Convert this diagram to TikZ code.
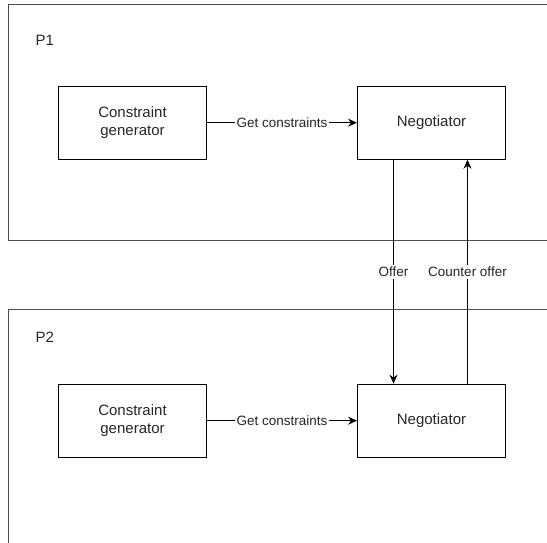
\documentclass[tikz,border=0pt]{standalone}
\usepackage{fontspec}
\setmainfont{Liberation Sans}
\usetikzlibrary{arrows.meta}

\begin{document}
\begin{tikzpicture}[x=1pt, y=-1pt,
        box/.style={draw=black, line width=1pt, minimum width=148pt, minimum height=73pt,
            align=center, inner sep=0pt, text=black!85, font=\fontsize{15}{18}\selectfont},
        frame/.style={draw=black!70, line width=1.3pt},
        plbl/.style={anchor=west, inner sep=0pt, text=black!85, font=\fontsize{15}{18}\selectfont},
        lbl/.style={fill=white, inner sep=2pt, text=black!85, font=\fontsize{13.5}{16}\selectfont},
        msg/.style={-{Stealth[length=9pt,width=8pt,inset=3pt]}, line width=1pt}]
        \clip (0,0) rectangle (547,543);

        % the two parties
        \draw[frame] (8.3,4.7) rectangle (620,240.7);
        \node[plbl] (p1) at (35.5,40) {P1};
        \draw[frame] (8.3,309.3) rectangle (620,620);
        \node[plbl] (p2) at (35.5,337) {P2};

        \node[box] (cg1) at (132.5,122.7) {Constraint\\generator};
        \node[box] (neg1) at (431.5,122.7) {Negotiator};
        \node[box] (cg2) at (132.5,420.7) {Constraint\\generator};
        \node[box] (neg2) at (431.5,420.7) {Negotiator};

        \draw[msg] (cg1) -- node[lbl] {Get constraints} (neg1);
        \draw[msg] (cg2) -- node[lbl] {Get constraints} (neg2);

        % offers go across
        \draw[msg] ([xshift=-38pt]neg1.south) -- node[lbl] {Offer} ([xshift=-38pt]neg2.north);
        \draw[msg] ([xshift=36pt]neg2.north) -- node[lbl] {Counter offer} ([xshift=36pt]neg1.south);
    \end{tikzpicture}
\end{document}
